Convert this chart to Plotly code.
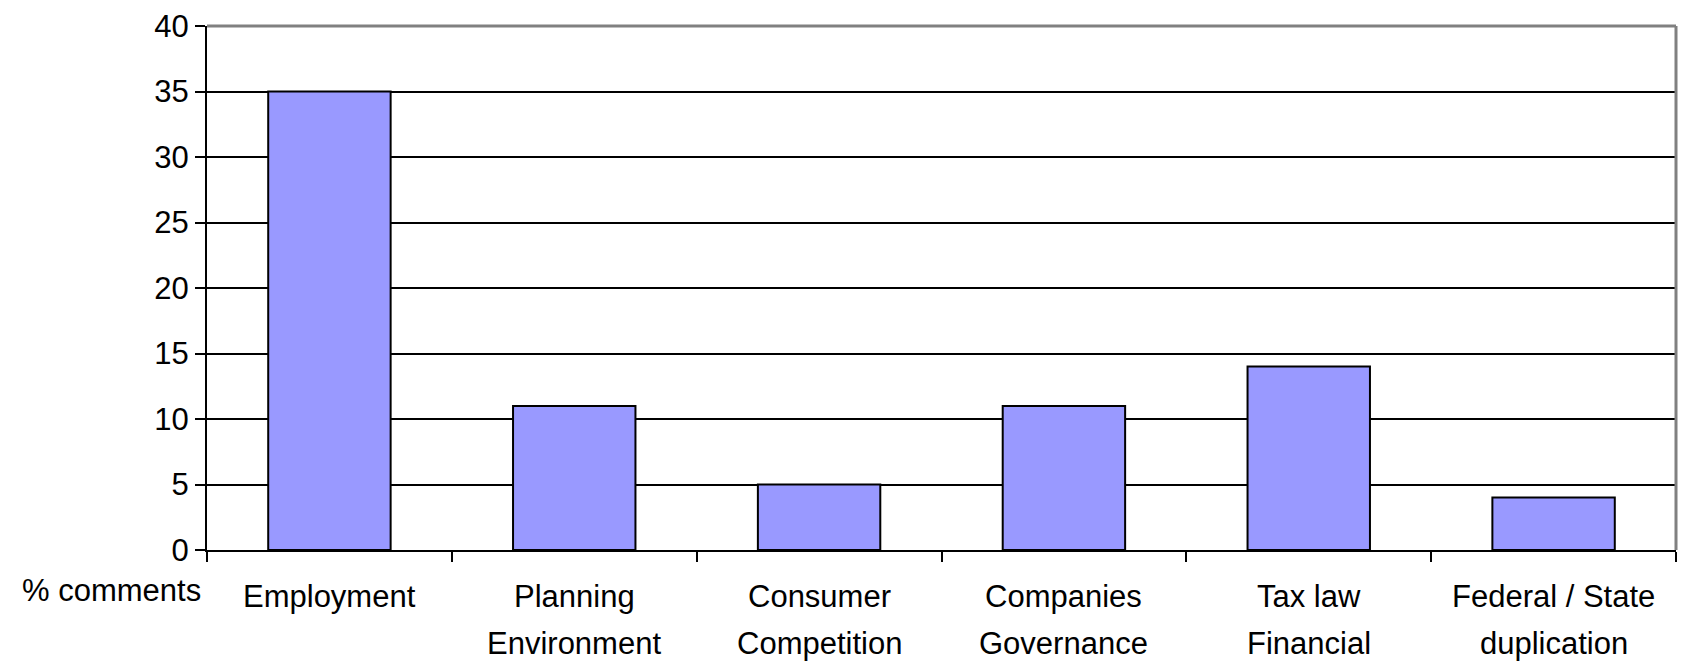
import plotly.graph_objects as go

categories = ["Employment", "Planning Environment", "Consumer Competition",
              "Companies Governance", "Tax law Financial", "Federal / State duplication"]
label_line1 = ["Employment", "Planning", "Consumer", "Companies", "Tax law", "Federal / State"]
label_line2 = ["", "Environment", "Competition", "Governance", "Financial", "duplication"]
values = [35, 11, 5, 11, 14, 4]
y_ticks = [0, 5, 10, 15, 20, 25, 30, 35, 40]

FONT = "Liberation Sans, Arial, sans-serif"

fig = go.Figure()
fig.add_trace(go.Bar(
    x=categories, y=values, width=0.5,
    marker=dict(color="#9999FF", line=dict(color="black", width=2)),
    showlegend=False,
))

annotations = []
for cat, l1, l2 in zip(categories, label_line1, label_line2):
    annotations.append(dict(x=cat, xref="x", y=0, yref="paper", text=l1,
                            showarrow=False, yanchor="middle", xanchor="center",
                            yshift=-46, font=dict(family=FONT, size=31, color="black")))
    if l2:
        annotations.append(dict(x=cat, xref="x", y=0, yref="paper", text=l2,
                                showarrow=False, yanchor="middle", xanchor="center",
                                yshift=-93, font=dict(family=FONT, size=31, color="black")))
annotations.append(dict(x=-0.003, xref="paper", y=0, yref="paper", text="% comments",
                        showarrow=False, yanchor="middle", xanchor="right",
                        yshift=-40, font=dict(family=FONT, size=31, color="black")))

fig.update_layout(
    width=1681, height=654, autosize=False,
    margin=dict(l=199, r=13, t=18, b=112, autoexpand=False),
    paper_bgcolor="white", plot_bgcolor="white",
    font=dict(family=FONT, color="black"),
    bargap=0.5,
    annotations=annotations,
    shapes=[
        dict(type="line", xref="paper", yref="paper", x0=0, x1=1, y0=1, y1=1,
             line=dict(color="#808080", width=3), layer="above"),
        dict(type="line", xref="paper", yref="paper", x0=1, x1=1, y0=0, y1=1,
             line=dict(color="#808080", width=3), layer="above"),
    ],
)
fig.update_xaxes(
    type="category", range=[-0.5, 5.5], automargin=False,
    showline=True, linecolor="black", linewidth=2,
    ticks="outside", tickson="boundaries", ticklen=10, tickwidth=2, tickcolor="black",
    showticklabels=False, showgrid=False, zeroline=False,
)
fig.update_yaxes(
    range=[0, 40], tickvals=y_ticks, automargin=False,
    showline=True, linecolor="black", linewidth=2,
    ticks="outside", ticklen=10, tickwidth=2, tickcolor="black",
    showgrid=True, gridcolor="black", gridwidth=2, zeroline=False,
    tickfont=dict(family=FONT, size=31, color="black"),
)

fig.write_html("out.html")
